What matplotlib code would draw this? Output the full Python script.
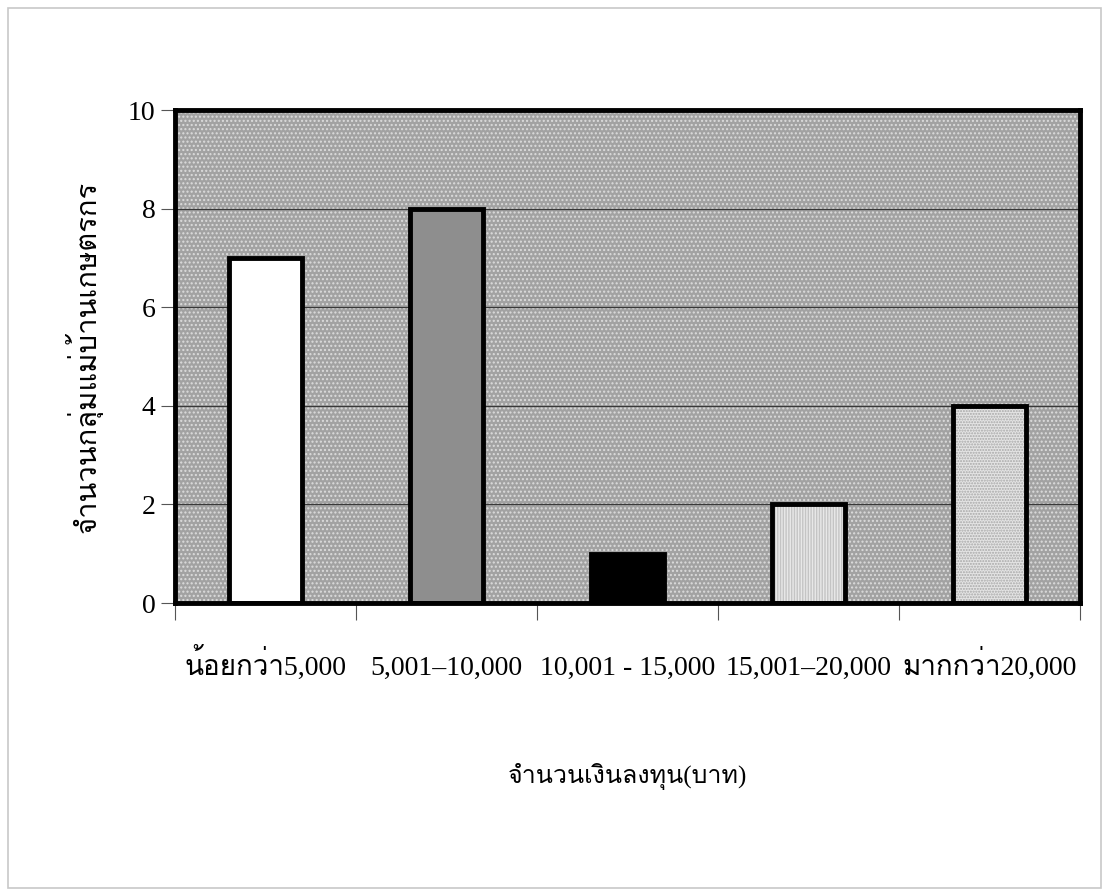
import matplotlib
matplotlib.use("Agg")
import matplotlib.pyplot as plt
from matplotlib import font_manager
from matplotlib.ft2font import FT2Font
from matplotlib.patches import Rectangle

# ข้อมูล
categories = ["น้อยกว่า5,000", "5,001–10,000", "10,001 - 15,000", "15,001–20,000", "มากกว่า20,000"]
values = [7, 8, 1, 2, 4]
y_ticks = [0, 2, 4, 6, 8, 10]
x_label = "จำนวนเงินลงทุน(บาท)"
y_label = "จำนวนกลุ่มแม่บ้านเกษตรกร"


# หาฟอนต์ที่มีอักษรไทย
def find_thai_font():
    names = []
    for f in font_manager.fontManager.ttflist:
        try:
            if 0x0E01 in FT2Font(f.fname).get_charmap():
                names.append(f.name)
        except Exception:
            pass
    return names[0] if names else "DejaVu Sans"


thai_font = find_thai_font()
fam = ["Liberation Serif", thai_font, "DejaVu Sans"]
plt.rcParams["font.family"] = fam
plt.rcParams["hatch.linewidth"] = 1.0

fig = plt.figure(figsize=(11.09, 8.96), dpi=100)
ax = fig.add_axes([0.1578, 0.327, 0.816, 0.5502])

# พื้นหลังลายจุด
bg = Rectangle((0, 0), 1, 1, transform=ax.transAxes, facecolor="#a2a2a2",
               edgecolor="#dcdcdc", hatch="....", linewidth=0, zorder=0)
ax.add_patch(bg)
ax.set_facecolor("none")

x = list(range(len(categories)))
fills = ["white", "#8e8e8e", "black", "#c4c4c4", "#e4e4e4"]
hatches = [None, None, None, "||||||", "......"]
hcols = ["white", "#8e8e8e", "black", "#e8e8e8", "#a8a8a8"]

ax.bar(x, values, width=0.4, color=fills, linewidth=0, zorder=3)
for i in range(len(x)):
    if hatches[i]:
        ax.bar(x[i], values[i], width=0.4, color=fills[i], edgecolor=hcols[i],
               linewidth=0, hatch=hatches[i], zorder=3)
ax.bar(x, values, width=0.4, fill=False, edgecolor="black", linewidth=3.5, zorder=4)

ax.set_xlim(-0.5, len(categories) - 0.5)
ax.set_ylim(0, 10)
ax.set_yticks(y_ticks)
ax.set_yticklabels([str(v) for v in y_ticks], fontsize=20)
ax.yaxis.grid(True, color="#383838", linewidth=0.9, zorder=1)
ax.set_axisbelow(False)

ax.set_xticks(x)
ax.set_xticklabels(categories, fontsize=20, va="baseline")
ax.set_xticks([i - 0.5 for i in range(len(categories) + 1)], minor=True)
ax.tick_params(axis="x", which="major", length=0, pad=52)
ax.tick_params(axis="x", which="minor", length=12, width=0.8, color="#555555", direction="out")
ax.tick_params(axis="y", length=10, width=0.8, color="#555555", pad=4)

for s in ax.spines.values():
    s.set_linewidth(3.5)
    s.set_color("black")
    s.set_zorder(5)

ax.set_xlabel(x_label, fontsize=18, va="baseline")
ax.xaxis.set_label_coords(0.5, -0.365)
ax.set_ylabel(y_label, fontsize=21)
ax.yaxis.set_label_coords(-0.08, 0.5)

# กรอบรูป
fig.patches.append(Rectangle((0.007, 0.009), 0.986, 0.982, transform=fig.transFigure,
                             fill=False, edgecolor="#c8c8c8", linewidth=1.2))

fig.savefig("out.png", dpi=100)
